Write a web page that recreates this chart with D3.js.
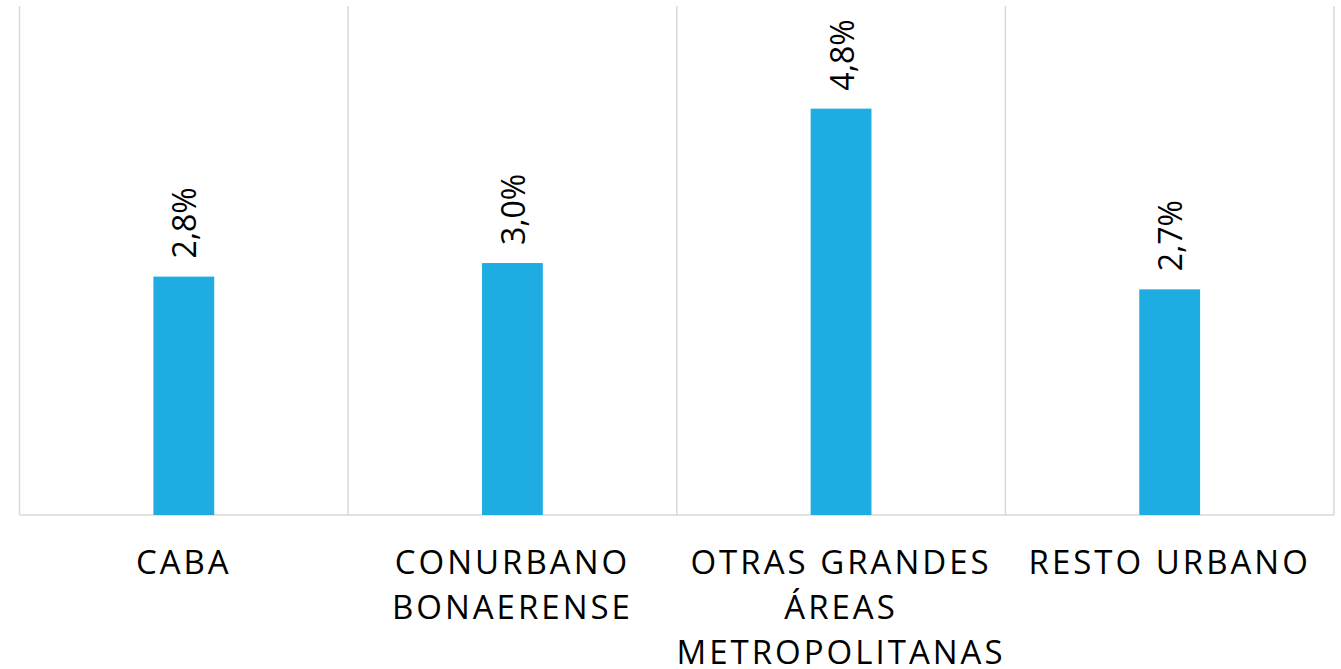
<!DOCTYPE html>
<html>
<head>
<meta charset="utf-8">
<script src="https://cdn.jsdelivr.net/npm/d3@7"></script>
<style>
  html, body { margin: 0; padding: 0; background: #fff; }
  svg { display: block; }
</style>
</head>
<body>
<div id="app"></div>
<script>
// datos
const categories = [
  ["CABA"],
  ["CONURBANO", "BONAERENSE"],
  ["OTRAS GRANDES", "ÁREAS", "METROPOLITANAS"],
  ["RESTO URBANO"]
];
const values = [2.81, 2.97, 4.79, 2.66];

const width = 1341, height = 669;
const margin = { top: 6, right: 7, bottom: 154, left: 19.5 };

const svg = d3.select("#app").append("svg")
  .attr("width", width)
  .attr("height", height);

const x = d3.scaleBand()
  .domain(d3.range(categories.length))
  .range([margin.left, width - margin.right])
  .padding(0);

const y = d3.scaleLinear()
  .domain([0, 6])
  .range([height - margin.bottom, margin.top]);

const fmt = v => d3.format(".1f")(v).replace(".", ",") + "%";
const barW = x.bandwidth() * 0.185;

// líneas verticales de separación
const edges = d3.range(categories.length + 1).map(i =>
  i < categories.length ? x(i) : x(i - 1) + x.bandwidth());
svg.append("g")
  .selectAll("line")
  .data(edges)
  .join("line")
  .attr("x1", d => d).attr("x2", d => d)
  .attr("y1", y(6)).attr("y2", y(0))
  .attr("stroke", "#d9d9d9")
  .attr("stroke-width", 1.5);

// eje base
svg.append("line")
  .attr("x1", edges[0]).attr("x2", edges[edges.length - 1])
  .attr("y1", y(0)).attr("y2", y(0))
  .attr("stroke", "#d9d9d9")
  .attr("stroke-width", 1.5);

// barras
svg.append("g")
  .selectAll("rect")
  .data(values)
  .join("rect")
  .attr("x", (d, i) => x(i) + x.bandwidth() / 2 - barW / 2)
  .attr("y", d => y(d))
  .attr("width", barW)
  .attr("height", d => y(0) - y(d))
  .attr("fill", "#1eace2");

// etiquetas de valor (rotadas)
svg.append("g")
  .selectAll("text")
  .data(values)
  .join("text")
  .attr("transform", (d, i) =>
    `translate(${x(i) + x.bandwidth() / 2 + 1},${y(d) - 18}) rotate(-90)`)
  .attr("dy", "0.36em")
  .attr("font-family", "'Open Sans', 'DejaVu Sans', sans-serif")
  .attr("font-size", 32)
  .attr("fill", "#000")
  .text(d => fmt(d));

// etiquetas de categoría
const catG = svg.append("g")
  .selectAll("text")
  .data(categories)
  .join("text")
  .attr("x", (d, i) => x(i) + x.bandwidth() / 2)
  .attr("y", 574)
  .attr("text-anchor", "middle")
  .attr("font-family", "'Open Sans', 'DejaVu Sans', sans-serif")
  .attr("font-size", 33)
  .attr("letter-spacing", 3)
  .attr("fill", "#000");

catG.selectAll("tspan")
  .data((d, i) => d.map(t => ({ t, i })))
  .join("tspan")
  .attr("x", d => x(d.i) + x.bandwidth() / 2)
  .attr("dy", (d, j) => j === 0 ? 0 : 45)
  .text(d => d.t);
</script>
</body>
</html>
